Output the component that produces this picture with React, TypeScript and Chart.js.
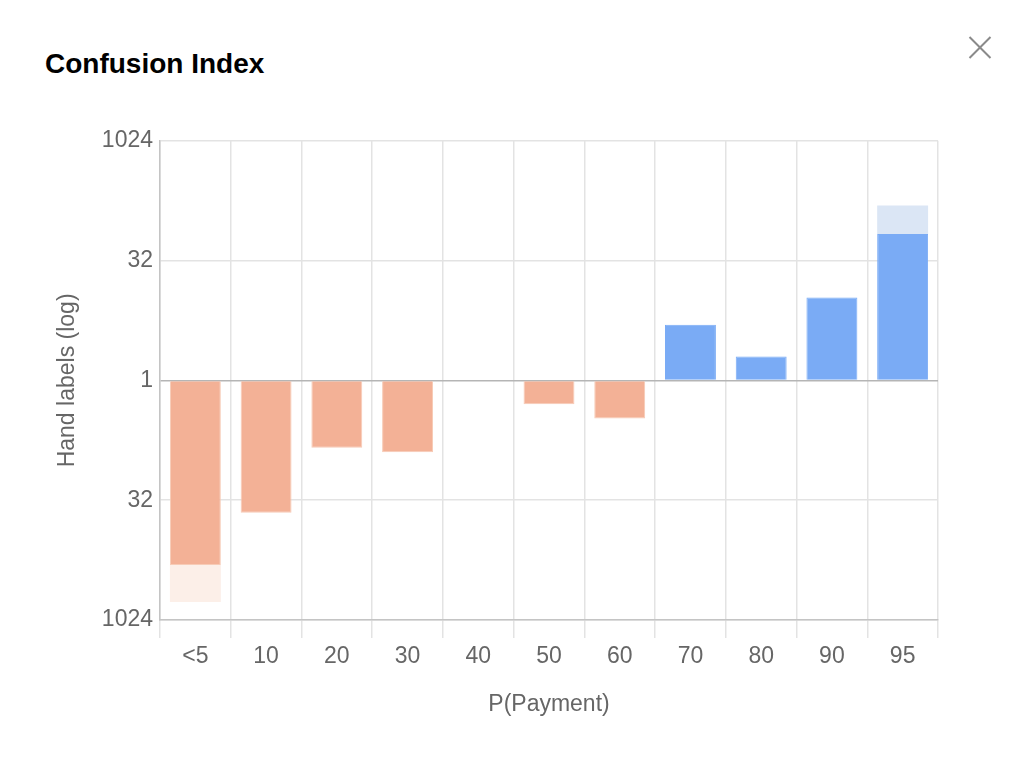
import React, { useEffect, useRef } from "react";
import { Chart, registerables } from "chart.js";

Chart.register(...registerables);

const categories = ["<5", "10", "20", "30", "40", "50", "60", "70", "80", "90", "95"];
// signed hand-label counts (negative = below the axis)
const mainCounts = [-208, -46, -7, -8, 0, -2, -3, 5, 2, 11, 69];
// total counts including the lighter extension (0 = none)
const totalCounts = [-609, 0, 0, 0, 0, 0, 0, 0, 0, 0, 158];
const yTickValues = [-10, -5, 0, 5, 10];

const FONT = "'Liberation Sans', Arial, Helvetica, sans-serif";

const signedLog = (v: number) => (v === 0 ? 0 : Math.sign(v) * Math.log2(Math.abs(v)));

export default function App() {
  const ref = useRef<HTMLCanvasElement | null>(null);

  useEffect(() => {
    if (!ref.current) return;
    const mainData = mainCounts.map((v) => (v === 0 ? null : signedLog(v)));
    const extData = totalCounts.map((t, i) =>
      t === 0 ? null : signedLog(t) - signedLog(mainCounts[i])
    );
    const mainColors = mainCounts.map((v) => (v < 0 ? "#f3b196" : "#7aabf5"));
    const mainBorders = mainCounts.map((v) => (v < 0 ? "#f7cbb6" : "#7aabf5"));
    const extColors = totalCounts.map((v) => (v < 0 ? "#fcefe8" : "#dbe6f5"));

    const chart = new Chart(ref.current, {
      type: "bar",
      data: {
        labels: categories,
        datasets: [
          {
            data: mainData as any,
            backgroundColor: mainColors,
            borderColor: mainBorders,
            borderWidth: 1,
            stack: "s",
          },
          {
            data: extData as any,
            backgroundColor: extColors,
            borderWidth: 0,
            stack: "s",
          },
        ],
      },
      options: {
        animation: false,
        responsive: false,
        maintainAspectRatio: false,
        layout: { padding: { top: 10, right: 12, left: 0, bottom: 0 } },
        plugins: {
          legend: { display: false },
          tooltip: { enabled: false },
          title: { display: false },
        },
        scales: {
          x: {
            stacked: true,
            grid: {
              color: "#e3e3e3",
              lineWidth: 1.5,
              tickLength: 18,
              offset: true,
            },
            border: { color: "#c4c4c4", width: 1.5 },
            ticks: {
              color: "#666",
              font: { family: FONT, size: 23 },
              padding: 5,
            },
            title: {
              display: true,
              text: "P(Payment)",
              color: "#666",
              font: { family: FONT, size: 23 },
              padding: { top: 4, bottom: 4 },
            },
            afterFit: (s: any) => {
              s.height = 102;
            },
          },
          y: {
            stacked: true,
            min: -10,
            max: 10,
            afterBuildTicks: (s: any) => {
              s.ticks = yTickValues.map((v) => ({ value: v }));
            },
            grid: {
              color: (ctx: any) => (ctx.tick && ctx.tick.value === 0 ? "#b5b5b5" : "#e3e3e3"),
              lineWidth: 1.5,
              drawTicks: false,
            },
            border: { color: "#c4c4c4", width: 1.5 },
            ticks: {
              color: "#666",
              font: { family: FONT, size: 23 },
              padding: 7,
              callback: (v: any) => String(Math.pow(2, Math.abs(Number(v)))),
            },
            title: {
              display: true,
              text: "Hand labels (log)",
              color: "#666",
              font: { family: FONT, size: 23 },
              padding: { top: 4, bottom: 4 },
            },
            afterFit: (s: any) => {
              s.width = 110;
            },
          },
        },
      },
    });
    return () => chart.destroy();
  }, []);

  return (
    <div style={{ position: "absolute", left: 0, top: 0, width: 1030, height: 762, background: "#fff" }}>
      <div
        style={{
          position: "absolute",
          left: 45,
          top: 50,
          fontFamily: FONT,
          fontWeight: "bold",
          fontSize: 28,
          lineHeight: "28px",
          color: "#000",
          whiteSpace: "nowrap",
        }}
      >
        Confusion Index
      </div>
      <svg
        style={{ position: "absolute", left: 966, top: 34 }}
        width={28}
        height={28}
        viewBox="0 0 28 28"
      >
        <line x1={3.5} y1={3} x2={24.5} y2={24} stroke="#8a8a8a" strokeWidth={2} />
        <line x1={24.5} y1={3} x2={3.5} y2={24} stroke="#8a8a8a" strokeWidth={2} />
      </svg>
      <canvas
        ref={ref}
        width={900}
        height={602}
        style={{ position: "absolute", left: 50, top: 120, width: 900, height: 602 }}
      />
    </div>
  );
}
